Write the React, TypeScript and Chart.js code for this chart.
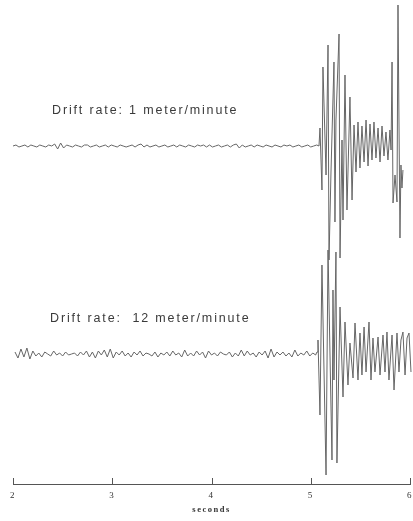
import { useEffect, useRef } from "react";
import { Chart, registerables } from "chart.js";

Chart.register(...registerables);

// ---------- data ----------
const sampleInterval = 0.03; // seconds between samples in the quiet part
const trace1Start = 2.0;
const trace2Start = 2.02;

// quiet (pre-event) noise, amplitude units
const trace1Quiet = [
  0, 1, -1, 0, 1, -1, 1, 0, -1, 1,
  0, -1, 1, 0, 2, -3, 3, -2, 1, 0,
  -1, 1, 0, -1, 1, 1, -1, 0, 1, -1,
  0, 1, -1, 1, 0, -1, 1, 0, -1, 0,
  1, -1, 1, 2, -1, 1, -1, 0, 1, -1,
  0, 1, -1, 0, 1, -1, 1, 0, -1, 1,
  0, -1, 1, 0, 1, -1, 1, -1, 0, 1,
  -1, 0, 1, -1, 1, 2, -2, 1, -1, 0,
  1, -1, 1, 0, -1, 1, 0, -1, 1, 0,
  -1, 1, 0, 1, -1, 0, 1, -1, 0, 1,
  -1, 0, 1,
];
const trace2Quiet = [
  2, -4, 5, -3, 6, -5, 3, -2, 1, -3,
  2, 0, -2, 3, -1, 1, -2, 2, -1, 0,
  1, -2, 2, -1, 3, -3, 2, -4, 3, -1,
  4, -3, 5, -4, 2, -1, 3, -2, 1, -3,
  2, -1, 3, -2, 1, 0, -2, 2, -3, 1,
  -1, 2, -2, 3, -1, 1, -3, 4, -2, 1,
  -2, 3, -1, 2, -4, 3, -1, 1, -2, 2,
  0, -1, 2, -3, 1, -2, 4, -2, 3, -1,
  1, -3, 2, -1, 3, -4, 5, -3, 2, -1,
  2, -2, 1, -3, 4, -2, 1, -1, 3, -2,
  1, -1,
];

// event arrivals (time in seconds, amplitude units)
const trace1BurstTimes = [
  5.083, 5.093, 5.113, 5.123, 5.154, 5.174, 5.184, 5.204, 5.234, 5.244,
  5.254, 5.285, 5.295, 5.315, 5.325, 5.345, 5.365, 5.395, 5.416, 5.436,
  5.456, 5.476, 5.496, 5.516, 5.537, 5.557, 5.577, 5.597, 5.617, 5.637,
  5.657, 5.678, 5.698, 5.718, 5.738, 5.758, 5.778, 5.798, 5.809, 5.819,
  5.829, 5.849, 5.869, 5.879, 5.899, 5.909, 5.919, 5.929,
];
const trace1BurstValues = [
  0, 18, -44, 79, -29, 101, -114, -26, 84, -76,
  26, 112, -112, 6, -74, 71, -64, 49, -54, 21,
  -26, 24, -22, 20, -16, 26, -20, 22, -14, 24,
  -12, 18, -16, 20, -10, 14, -14, 16, -4, 84,
  -57, -29, -56, 141, -92, -19, -42, -24,
];
const trace2BurstTimes = [
  5.053, 5.063, 5.073, 5.093, 5.113, 5.154, 5.174, 5.214, 5.224, 5.234,
  5.254, 5.264, 5.295, 5.325, 5.345, 5.375, 5.395, 5.426, 5.446, 5.476,
  5.496, 5.516, 5.537, 5.557, 5.587, 5.607, 5.627, 5.647, 5.678, 5.698,
  5.728, 5.748, 5.768, 5.788, 5.819, 5.839, 5.869, 5.889, 5.909, 5.929,
  5.950, 5.970, 5.990, 6.010, 6.030,
];
const trace2BurstValues = [
  0, 2, 14, -61, 89, -121, 104, -106, 64, -26,
  102, -109, 47, -43, 32, -31, 11, -24, 31, -26,
  21, -21, 27, -18, 32, -26, 16, -18, 17, -21,
  19, -18, 22, -26, 19, -36, 21, -18, 14, 22,
  -21, 16, 21, -18, 9,
];

// vertical offsets of the two stacked traces
const trace1Offset = 338;
const trace2Offset = 130;

const traceLabels = ["Drift rate: 1 meter/minute", "Drift rate:  12 meter/minute"];
const tickValues = [2, 3, 4, 5, 6];
const tickLabels = ["2", "3", "4", "5", "6"];
const axisTitle = "seconds";

// ---------- helpers ----------
function buildTrace(start: number, quiet: number[], times: number[], values: number[], offset: number) {
  const pts = quiet.map((v, i) => ({ x: start + i * sampleInterval, y: offset + v }));
  times.forEach((t, i) => pts.push({ x: t, y: offset + values[i] }));
  return pts;
}

const labelPlugin = {
  id: "traceLabels",
  beforeDraw(chart: any) {
    chart.ctx.letterSpacing = "1.5px";
  },
  afterDraw(chart: any) {
    const { ctx, scales, chartArea } = chart;
    ctx.save();
    // tick marks pointing up from the axis line
    ctx.strokeStyle = "#555";
    ctx.lineWidth = 1;
    tickValues.forEach((v) => {
      const x = Math.round(scales.x.getPixelForValue(v)) + 0.5;
      ctx.beginPath();
      ctx.moveTo(x, chartArea.bottom - 6);
      ctx.lineTo(x, chartArea.bottom);
      ctx.stroke();
    });
    // trace labels
    ctx.letterSpacing = "1.85px";
    ctx.fillStyle = "#3a3a3a";
    ctx.font = "12.5px 'Liberation Sans', Arial, sans-serif";
    ctx.textBaseline = "alphabetic";
    ctx.textAlign = "left";
    const pos = [
      { x: 2.393, y: 370 },
      { x: 2.373, y: 162 },
    ];
    traceLabels.forEach((t, i) => {
      ctx.fillText(t, scales.x.getPixelForValue(pos[i].x), scales.y.getPixelForValue(pos[i].y));
    });
    ctx.restore();
    ctx.letterSpacing = "0px";
  },
};

export default function App() {
  const ref = useRef<HTMLCanvasElement>(null);
  useEffect(() => {
    if (!ref.current) return;
    const chart = new Chart(ref.current, {
      type: "line",
      data: {
        datasets: [
          {
            data: buildTrace(trace1Start, trace1Quiet, trace1BurstTimes, trace1BurstValues, trace1Offset),
            borderColor: "#666",
            borderWidth: 1,
            pointRadius: 0,
            tension: 0,
            clip: false as any,
          },
          {
            data: buildTrace(trace2Start, trace2Quiet, trace2BurstTimes, trace2BurstValues, trace2Offset),
            borderColor: "#666",
            borderWidth: 1,
            pointRadius: 0,
            tension: 0,
            clip: false as any,
          },
        ],
      },
      options: {
        responsive: false,
        animation: false,
        events: [],
        layout: { padding: { left: 13, right: 3, top: 0, bottom: 0 } },
        plugins: { legend: { display: false }, tooltip: { enabled: false }, title: { display: false } },
        scales: {
          x: {
            type: "linear",
            min: 2,
            max: 6,
            afterFit: (s: any) => {
              s.height = 37;
              s.paddingLeft = 0;
              s.paddingRight = 0;
            },
            afterBuildTicks: (s: any) => {
              s.ticks = tickValues.map((v) => ({ value: v }));
            },
            grid: { display: false, drawTicks: false },
            border: { display: true, color: "#555", width: 1 },
            ticks: {
              padding: 6,
              color: "#333",
              font: { family: "'Liberation Serif', serif", size: 9 },
              callback: (v: any) => tickLabels[tickValues.indexOf(Number(v))] ?? "",
              maxRotation: 0,
              autoSkip: false,
            },
            title: {
              display: true,
              text: axisTitle,
              color: "#333",
              font: { family: "'Liberation Serif', serif", size: 8.5, weight: "bold" },
              padding: { top: 0, bottom: 6 },
            },
          },
          y: { display: false, min: 0, max: 484 },
        },
      },
      plugins: [labelPlugin],
    });
    return () => chart.destroy();
  }, []);
  return (
    <div style={{ position: "fixed", left: 0, top: 0, width: 413, height: 521, background: "#fff" }}>
      <canvas ref={ref} width={413} height={521} />
    </div>
  );
}
